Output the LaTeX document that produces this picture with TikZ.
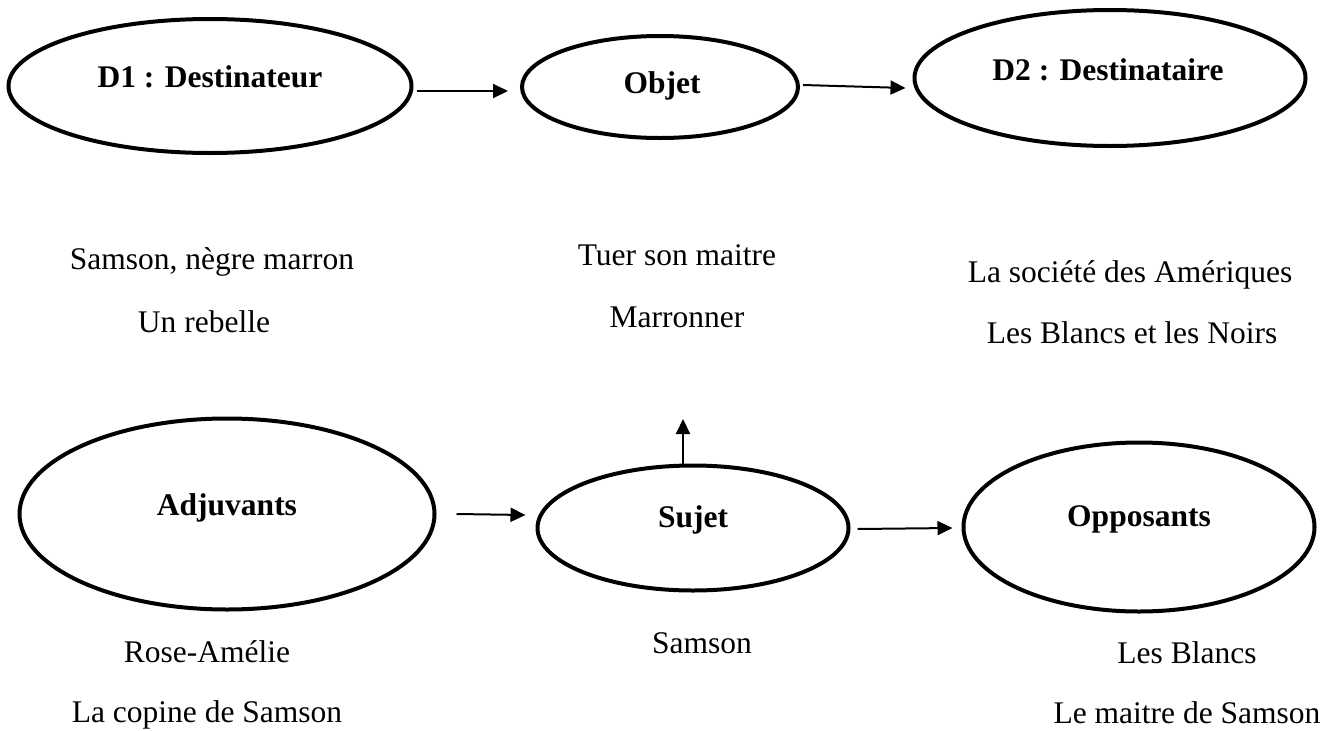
\documentclass[tikz,border=0pt]{standalone}
\usepackage{fontspec}
\setmainfont{Liberation Serif}
\usetikzlibrary{shapes.geometric,arrows.meta}
\begin{document}
\begin{tikzpicture}[x=1pt,y=-1pt,
  ell/.style={draw, ellipse, line width=4pt, inner sep=0pt},
  lab/.style={font=\fontsize{31.5}{36}\selectfont\bfseries, anchor=base, inner sep=0pt},
  txt/.style={font=\fontsize{31.5}{36}\selectfont, anchor=base, inner sep=0pt},
  arr/.style={line width=2pt, -{Triangle[length=15pt,width=14pt]}}]
\useasboundingbox[fill=white] (0,0) rectangle (1339,731);
% ellipses
\node[ell, minimum width=403pt, minimum height=134pt] (d1) at (210,86) {};
\node[ell, minimum width=276pt, minimum height=102pt] (obj) at (660,87) {};
\node[ell, minimum width=391pt, minimum height=136pt] (d2) at (1110,78) {};
\node[ell, minimum width=415pt, minimum height=191pt] (adj) at (227,514) {};
\node[ell, minimum width=311pt, minimum height=125pt] (suj) at (693,528) {};
\node[ell, minimum width=351pt, minimum height=169pt] (opp) at (1139,527) {};
% labels in ellipses
\node[lab] (d1t) at (210,87) {D1 : Destinateur};
\node[lab] (objt) at (662,93) {Objet};
\node[lab] (d2t) at (1108,80) {D2 : Destinataire};
\node[lab] (adjt) at (227,515) {Adjuvants};
\node[lab] (sujt) at (693,527) {Sujet};
\node[lab] (oppt) at (1139,526) {Opposants};
% connectors
\draw[arr] ([shift={(3,5)}]d1.east) -- ([shift={(-12,4)}]obj.west);
\draw[arr] ([shift={(3,-2)}]obj.east) -- ([shift={(-7,10)}]d2.west);
\draw[arr] ([shift={(20,0)}]adj.east) -- ([shift={(-10,-13)}]suj.west);
\draw[arr] ([shift={(7,1)}]suj.east) -- ([shift={(-9,1)}]opp.west);
\coordinate (uptip) at (683,419);
\draw[arr] ([xshift=-10pt]suj.north) -- (uptip);
% middle texts
\node[txt] (t1) at (212,269) {Samson, nègre marron};
\node[txt] (t2) at (204,332) {Un rebelle};
\node[txt] (t3) at (677,265) {Tuer son maitre};
\node[txt] (t4) at (677,327) {Marronner};
\node[txt] (t5) at (1130,282) {La société des Amériques};
\node[txt] (t6) at (1132,343) {Les Blancs et les Noirs};
% bottom texts
\node[txt] (b1) at (207,662) {Rose-Amélie};
\node[txt] (b2) at (207,722) {La copine de Samson};
\node[txt] (b3) at (702,653) {Samson};
\node[txt] (b4) at (1187,663) {Les Blancs};
\node[txt] (b5) at (1187,723) {Le maitre de Samson};
\end{tikzpicture}
\end{document}
